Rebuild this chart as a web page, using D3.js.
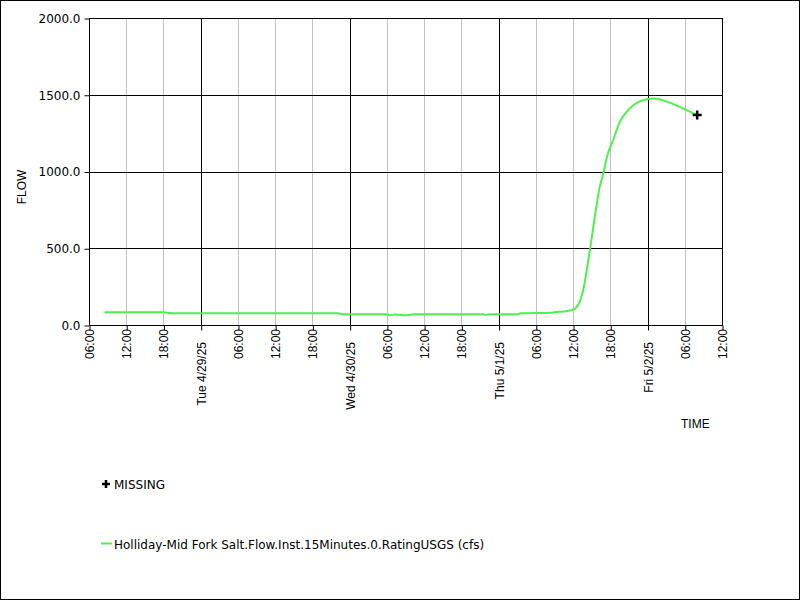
<!DOCTYPE html>
<html><head><meta charset="utf-8">
<script src="https://cdn.jsdelivr.net/npm/d3@7"></script>
<style>body{margin:0;background:#fff}svg{display:block}</style>
</head><body><svg id="c" width="800" height="600"></svg>
<script>
// ---- data ----
const times = [
  "2025-04-28T08:30","2025-04-28T12:00","2025-04-28T18:00","2025-04-28T19:00","2025-04-28T20:00",
  "2025-04-29T06:00","2025-04-29T12:00","2025-04-29T18:00","2025-04-29T22:00","2025-04-29T23:00",
  "2025-04-30T02:00","2025-04-30T06:00","2025-04-30T06:30","2025-04-30T07:15","2025-04-30T08:00",
  "2025-04-30T09:00","2025-04-30T09:45","2025-04-30T10:30","2025-04-30T16:00","2025-04-30T21:30",
  "2025-04-30T22:00","2025-04-30T22:30","2025-05-01T03:00","2025-05-01T03:30","2025-05-01T08:30",
  "2025-05-01T09:00","2025-05-01T11:00","2025-05-01T12:00","2025-05-01T13:00","2025-05-01T13:45",
  "2025-05-01T14:15","2025-05-01T14:45","2025-05-01T15:30","2025-05-01T16:15","2025-05-01T17:00",
  "2025-05-01T17:30","2025-05-01T18:30","2025-05-01T19:30","2025-05-01T21:00","2025-05-01T23:00",
  "2025-05-02T01:00","2025-05-02T03:00","2025-05-02T05:30","2025-05-02T08:00"
];
const flows = [
  83,83,83,78,76,
  76,76,76,76,70,
  70,70,64,68,66,
  63,66,70,70,70,
  65,70,70,76,80,
  83,91,100,145,250,
  370,495,705,890,1010,
  1100,1210,1320,1405,1460,
  1475,1457,1415,1368
];
const missingTimes = ["2025-05-02T08:00"];
const missingValues = [1368];
const yTickValues = [0, 500, 1000, 1500, 2000];
const xDomainLabels = ["2025-04-28T06:00", "2025-05-02T12:00"];
const seriesName = "Holliday-Mid Fork Salt.Flow.Inst.15Minutes.0.RatingUSGS (cfs)";
const missingName = "MISSING";
const yTitle = "FLOW";
const xTitle = "TIME";

// ---- drawing ----
const parse = d3.utcParse("%Y-%m-%dT%H:%M");
const svg = d3.select("#c");
const L = 89, R = 722, T = 18, B = 325;

svg.append("rect").attr("x",0.5).attr("y",0.5).attr("width",799).attr("height",599)
  .attr("fill","#fff").attr("stroke","#000");

const x = d3.scaleUtc().domain(xDomainLabels.map(parse)).range([L, R]);
const y = d3.scaleLinear().domain([0, 2000]).range([B, T]);

const xTicks = d3.utcHour.every(6).range(parse(xDomainLabels[0]), new Date(+parse(xDomainLabels[1]) + 1));
const isMidnight = d => d.getUTCHours() === 0;

// vertical grid
svg.append("g").selectAll("line").data(xTicks.filter(d => !isMidnight(d))).join("line")
  .attr("x1", d => Math.round(x(d)) + 0.5).attr("x2", d => Math.round(x(d)) + 0.5)
  .attr("y1", T).attr("y2", B).attr("stroke", "#c0c0c0");
svg.append("g").selectAll("line").data(xTicks.filter(isMidnight)).join("line")
  .attr("x1", d => Math.round(x(d)) + 0.5).attr("x2", d => Math.round(x(d)) + 0.5)
  .attr("y1", T).attr("y2", B).attr("stroke", "#000");
// horizontal grid
svg.append("g").selectAll("line").data(yTickValues).join("line")
  .attr("x1", L).attr("x2", R)
  .attr("y1", d => Math.round(y(d)) + 0.5).attr("y2", d => Math.round(y(d)) + 0.5)
  .attr("stroke", "#000");
// frame
svg.append("rect").attr("x", L + 0.5).attr("y", T + 0.5).attr("width", R - L).attr("height", B - T)
  .attr("fill", "none").attr("stroke", "#000");

// y axis
const yAxis = d3.axisLeft(y).tickValues(yTickValues).tickSize(5).tickPadding(4)
  .tickFormat(d3.format(".1f"));
const gy = svg.append("g").attr("transform", `translate(${L + 0.5},0.5)`).call(yAxis);
gy.select(".domain").remove();
gy.selectAll("text").attr("font-family", "DejaVu Sans").attr("font-size", 12).attr("fill", "#000");

// x axis
const xAxis = d3.axisBottom(x).tickValues(xTicks).tickSize(5).tickFormat(() => "");
const gx = svg.append("g").attr("transform", `translate(0.5,${B + 0.5})`).call(xAxis);
gx.select(".domain").remove();
const xl = svg.append("g");
xl.selectAll("text").data(xTicks).join("text")
  .attr("transform", d => `translate(${Math.round(x(d)) + 5},${isMidnight(d) ? 342 : 329}) rotate(-90)`)
  .attr("text-anchor", "end")
  .attr("font-family", "Liberation Sans, Arial").attr("font-size", 12)
  .text(d => isMidnight(d) ? d3.utcFormat("%a %-m/%-d/%y")(d) : d3.utcFormat("%H:%M")(d));

// titles
svg.append("text").attr("transform", "translate(26,187) rotate(-90)").attr("text-anchor", "middle")
  .attr("font-family", "Liberation Sans, Arial").attr("font-size", 12).text(yTitle);
svg.append("text").attr("x", 681).attr("y", 428)
  .attr("font-family", "Liberation Sans, Arial").attr("font-size", 12).text(xTitle);

// series
const pts = times.map((t, i) => ({ t: parse(t), v: flows[i] }));
svg.append("path").datum(pts)
  .attr("fill", "none").attr("stroke", "#4ef04e").attr("stroke-width", 2)
  .attr("stroke-linejoin", "round")
  .attr("d", d3.line().x(d => x(d.t)).y(d => y(d.v)).curve(d3.curveMonotoneX));

// missing markers
const crossPath = "M-4.5,0H4.5M0,-4.5V4.5";
svg.append("g").selectAll("path").data(missingTimes.map((t, i) => ({ t: parse(t), v: missingValues[i] }))).join("path")
  .attr("transform", d => `translate(${x(d.t)},${y(d.v)})`)
  .attr("d", crossPath).attr("stroke", "#000").attr("stroke-width", 2.5);

// legend
svg.append("path").attr("transform", "translate(106,484)").attr("d", "M-4,0H4M0,-4V4")
  .attr("stroke", "#000").attr("stroke-width", 2.5);
svg.append("text").attr("x", 114).attr("y", 489)
  .attr("font-family", "DejaVu Sans").attr("font-size", 12).text(missingName);
svg.append("line").attr("x1", 101).attr("x2", 112).attr("y1", 543.5).attr("y2", 543.5)
  .attr("stroke", "#4ef04e").attr("stroke-width", 2);
svg.append("text").attr("x", 114).attr("y", 549)
  .attr("font-family", "DejaVu Sans").attr("font-size", 12).text(seriesName);
</script>
</body></html>
